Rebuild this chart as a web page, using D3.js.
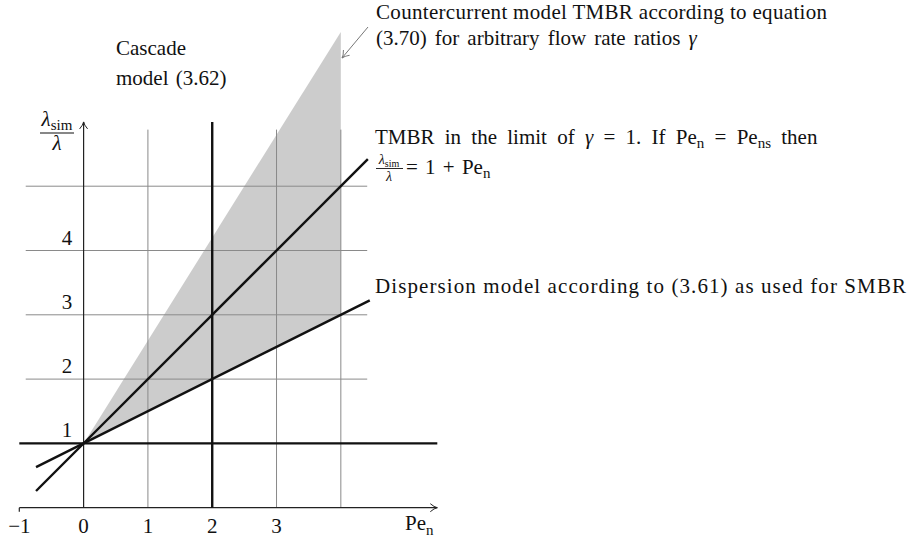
<!DOCTYPE html>
<html>
<head>
<meta charset="utf-8">
<script src="https://cdn.jsdelivr.net/npm/d3@7/dist/d3.min.js"></script>
<style>
  html, body { margin: 0; padding: 0; background: #fff; }
  svg { display: block; }
  text { font-family: "Liberation Serif", "DejaVu Serif", serif; fill: #111; }
</style>
</head>
<body>
<svg id="chart" width="913" height="542"></svg>
<script>
// Axis extents and tick values
const xDomain = [-1, 5.5];
const yDomain = [0, 6];
const xTickValues = [-1, 0, 1, 2, 3];
const yTickValues = [1, 2, 3, 4];
const xGridValues = [1, 2, 3, 4];
const yGridValues = [1, 2, 3, 4, 5];

// Model curves (Pe_n, lambda_sim / lambda)
const tmbrLimitPe = [-0.74, 4.42];
const tmbrLimitVal = [0.26, 5.42];
const dispersionPe = [-0.74, 4.45];
const dispersionVal = [0.63, 3.225];
const cascadePe = [2, 2];
const cascadeVal = [0, 6];
const unityPe = [-1, 5.5];
const unityVal = [1, 1];

// Countercurrent band: upper and lower edges
const bandPe = [0, 4];
const bandUpper = [1, 7.4];
const bandLower = [1, 3];

const svg = d3.select("#chart");
const x = d3.scaleLinear().domain(xDomain).range([19.3, 437.3]);
const y = d3.scaleLinear().domain(yDomain).range([507.7, 121.9]);

const FS = 21;
const SUB = 15;

// arrow markers
const defs = svg.append("defs");
function marker(id, color) {
  defs.append("marker").attr("id", id)
    .attr("viewBox", "-10 -6 12 12").attr("refX", 0).attr("refY", 0)
    .attr("markerWidth", 12).attr("markerHeight", 12).attr("markerUnits", "userSpaceOnUse")
    .attr("orient", "auto")
    .append("path").attr("d", "M-7,-4 Q-3,-0.5 0,0 Q-3,0.5 -7,4")
    .attr("fill", "none").attr("stroke", color).attr("stroke-width", 1);
}
marker("arrowBlack", "#222");
marker("arrowGray", "#777");

// shaded countercurrent band
const bandPts = bandPe.map((p, i) => [p, bandUpper[i]])
  .concat(bandPe.map((p, i) => [p, bandLower[i]]).reverse());
svg.append("path")
  .attr("d", d3.line().x(d => x(d[0])).y(d => y(d[1]))(bandPts) + "Z")
  .attr("fill", "#cccccc");

// grid
const gx0 = -0.9, gx1 = 4.41, gy1 = 5.88;
svg.append("g").selectAll("line").data(xGridValues).join("line")
  .attr("x1", d => x(d)).attr("x2", d => x(d))
  .attr("y1", y(0)).attr("y2", y(gy1))
  .attr("stroke", "#8a8a8a").attr("stroke-width", 1);
svg.append("g").selectAll("line").data(yGridValues).join("line")
  .attr("x1", x(gx0)).attr("x2", x(gx1))
  .attr("y1", d => y(d)).attr("y2", d => y(d))
  .attr("stroke", "#8a8a8a").attr("stroke-width", 1);

// axes
svg.append("line")
  .attr("x1", x(xDomain[0])).attr("x2", x(xDomain[1]))
  .attr("y1", y(0)).attr("y2", y(0))
  .attr("stroke", "#222").attr("stroke-width", 1.2)
  .attr("marker-end", "url(#arrowBlack)");
svg.append("line")
  .attr("x1", x(xDomain[0])).attr("x2", x(xDomain[0]))
  .attr("y1", y(0)).attr("y2", y(0) + 4)
  .attr("stroke", "#222").attr("stroke-width", 1.2);
svg.append("line")
  .attr("x1", x(0)).attr("x2", x(0))
  .attr("y1", y(0)).attr("y2", y(yDomain[1]))
  .attr("stroke", "#222").attr("stroke-width", 1.2)
  .attr("marker-end", "url(#arrowBlack)");

// tick labels
svg.append("g").selectAll("text").data(xTickValues).join("text")
  .attr("x", d => x(d)).attr("y", 533)
  .attr("text-anchor", "middle").attr("font-size", FS)
  .text(d => d < 0 ? "\u2212" + Math.abs(d) : d);
svg.append("g").selectAll("text").data(yTickValues).join("text")
  .attr("x", 67).attr("y", d => y(d) - 6)
  .attr("text-anchor", "middle").attr("font-size", FS)
  .text(d => d);

// axis titles
const pe = svg.append("text").attr("x", 405).attr("y", 530).attr("font-size", FS);
pe.append("tspan").text("Pe");
pe.append("tspan").attr("font-size", SUB).attr("dy", 5).text("n");

const yl = svg.append("g");
const ylNum = yl.append("text").attr("x", 57).attr("y", 126).attr("text-anchor", "middle").attr("font-size", FS);
ylNum.append("tspan").attr("font-style", "italic").text("\u03bb");
ylNum.append("tspan").attr("font-size", SUB).attr("dy", 4).text("sim");
yl.append("line").attr("x1", 40).attr("x2", 74).attr("y1", 133).attr("y2", 133)
  .attr("stroke", "#111").attr("stroke-width", 1.2);
yl.append("text").attr("x", 57).attr("y", 150).attr("text-anchor", "middle")
  .attr("font-size", FS).attr("font-style", "italic").text("\u03bb");

// model lines
const line2 = (pes, vals) => d3.line().x(d => x(d[0])).y(d => y(d[1]))(pes.map((p, i) => [p, vals[i]]));
const models = [
  [unityPe, unityVal],
  [cascadePe, cascadeVal],
  [tmbrLimitPe, tmbrLimitVal],
  [dispersionPe, dispersionVal]
];
svg.append("g").selectAll("path").data(models).join("path")
  .attr("d", d => line2(d[0], d[1]))
  .attr("fill", "none").attr("stroke", "#111").attr("stroke-width", 2.4);

// annotations
svg.append("text").attr("x", 116).attr("y", 55).attr("font-size", FS).text("Cascade");
svg.append("text").attr("x", 116).attr("y", 85).attr("font-size", FS)
  .attr("word-spacing", 2).text("model (3.62)");

svg.append("text").attr("x", 376).attr("y", 19).attr("font-size", FS)
  .attr("textLength", 451).attr("lengthAdjust", "spacing")
  .text("Countercurrent model TMBR according to equation");
const cc2 = svg.append("text").attr("x", 376).attr("y", 45).attr("font-size", FS)
  .attr("word-spacing", 2.8);
cc2.append("tspan").text("(3.70) for arbitrary flow rate ratios ");
cc2.append("tspan").attr("font-style", "italic").text("\u03b3");
svg.append("line")
  .attr("x1", 368).attr("y1", 27).attr("x2", 342).attr("y2", 58)
  .attr("stroke", "#777").attr("stroke-width", 1)
  .attr("marker-end", "url(#arrowGray)");

const tm = svg.append("text").attr("x", 375).attr("y", 144).attr("font-size", FS)
  .attr("word-spacing", 5);
tm.append("tspan").text("TMBR in the limit of ");
tm.append("tspan").attr("font-style", "italic").text("\u03b3");
tm.append("tspan").text(" = 1.  If Pe");
tm.append("tspan").attr("font-size", SUB).attr("dy", 4).text("n");
tm.append("tspan").attr("dy", -4).text(" = Pe");
tm.append("tspan").attr("font-size", SUB).attr("dy", 4).text("ns");
tm.append("tspan").attr("dy", -4).text(" then");

const fr = svg.append("g");
const frNum = fr.append("text").attr("x", 389).attr("y", 164).attr("text-anchor", "middle").attr("font-size", 14);
frNum.append("tspan").attr("font-style", "italic").text("\u03bb");
frNum.append("tspan").attr("font-size", 10).attr("dy", 3).text("sim");
fr.append("line").attr("x1", 376).attr("x2", 403).attr("y1", 168.5).attr("y2", 168.5)
  .attr("stroke", "#111").attr("stroke-width", 0.9);
fr.append("text").attr("x", 389).attr("y", 181).attr("text-anchor", "middle")
  .attr("font-size", 14).attr("font-style", "italic").text("\u03bb");
const eq = svg.append("text").attr("x", 406).attr("y", 174).attr("font-size", FS)
  .attr("word-spacing", 2);
eq.append("tspan").text("= 1 + Pe");
eq.append("tspan").attr("font-size", SUB).attr("dy", 4).text("n");

svg.append("text").attr("x", 375).attr("y", 293).attr("font-size", FS)
  .attr("textLength", 531).attr("lengthAdjust", "spacing")
  .text("Dispersion model according to (3.61) as used for SMBR");
</script>
</body>
</html>
